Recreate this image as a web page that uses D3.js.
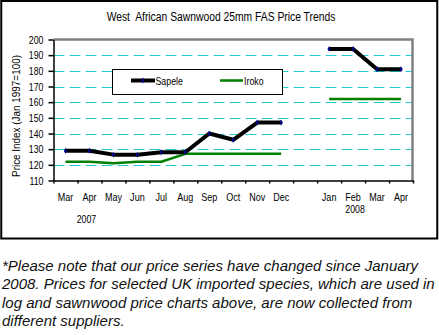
<!DOCTYPE html>
<html><head><meta charset="utf-8">
<script src="https://cdn.jsdelivr.net/npm/d3@7"></script>
<style>
body{margin:0;background:#fff;}
svg{display:block;}
text{font-family:Arial,"Liberation Sans",sans-serif;}
</style></head>
<body>
<script>
const title = "West  African Sawnwood 25mm FAS Price Trends";
const yTitle = "Price Index (Jan 1997=100)";
const categories = ["Mar","Apr","May","Jun","Jul","Aug","Sep","Oct","Nov","Dec","","Jan","Feb","Mar","Apr"];
const sapele = [129,129,126.5,126.5,128,128,140,136,147,147,null,194,194,181,181];
const iroko  = [122,122,121,122,122,127,127,127,127,127,null,162,162,162,162];
const yTicks = [110,120,130,140,150,160,170,180,190,200];
const gridValues = [120,130,140,150,160,170,180,190];
const yearLabels = [{text:"2007", at:1, row:2},{text:"2008", at:12, row:1}];
const seriesNames = ["Sapele","Iroko"];
const footer = [
  "*Please note that our price series have changed since January",
  "2008. Prices for selected UK imported species, which are used in",
  "log and sawnwood price charts above, are now collected from",
  "different suppliers."
];

const W=439,H=335;
const svg=d3.select("body").append("svg").attr("width",W).attr("height",H);
const L=53.5,R=412.5,T=39.5,B=180.5;
const x=d3.scaleBand().domain(d3.range(categories.length)).range([L,R+0.5]).paddingInner(0).paddingOuter(0);
const xc=i=>x(i)+x.bandwidth()/2;
const xb=d3.scaleLinear().domain([0,categories.length]).range([L,R+0.5]);
const y=d3.scaleLinear().domain([110,200]).range([B,T]);

function condense(sel,f){sel.each(function(){const n=this.getComputedTextLength();if(n>0){d3.select(this).attr("textLength",n*f).attr("lengthAdjust","spacingAndGlyphs");}});}

// outer frame
svg.append("rect").attr("x",1.25).attr("y",1).attr("width",436).attr("height",237.5)
  .attr("fill","#fff").attr("stroke","#000").attr("stroke-width",2);

// title
svg.append("text").attr("x",221).attr("y",20.5).attr("text-anchor","middle")
  .attr("font-size",12).style("white-space","pre").text(title).call(condense,0.86);

// grid
svg.append("g").selectAll("line").data(gridValues).join("line")
  .attr("x1",L).attr("x2",R).attr("y1",d=>Math.round(y(d))+0.5).attr("y2",d=>Math.round(y(d))+0.5)
  .attr("stroke","#22cccc").attr("stroke-width",1).attr("stroke-dasharray","11,5");

// plot border (gray)
svg.append("path").attr("d",`M${L},${T}H${R}V${B}`).attr("fill","none")
  .attr("stroke","#808080").attr("stroke-width",2.5);

// y axis
const ya=svg.append("g").attr("transform",`translate(${L},0)`)
  .call(d3.axisLeft(y).tickValues(yTicks).tickSize(5).tickSizeOuter(0).tickPadding(5));
ya.select(".domain").attr("stroke","#000").attr("stroke-width",1.5);
ya.selectAll(".tick line").attr("stroke","#000").attr("stroke-width",1.5);
ya.selectAll("text").attr("font-size",11).attr("font-family","Arial,'Liberation Sans',sans-serif").attr("fill","#000").call(condense,0.8);

// x axis ticks at boundaries
const xa=svg.append("g").attr("transform",`translate(0,${B})`)
  .call(d3.axisBottom(xb).tickValues(d3.range(categories.length+1)).tickSize(3).tickSizeOuter(0).tickFormat(""));
xa.select(".domain").attr("stroke","#000").attr("stroke-width",1.5);
xa.selectAll(".tick line").attr("stroke","#000").attr("stroke-width",1.5);
// x labels
const xl=svg.append("g").attr("transform",`translate(0,${B})`)
  .call(d3.axisBottom(x).tickSize(0).tickPadding(12.7).tickFormat(i=>categories[i]));
xl.select(".domain").remove();
xl.selectAll("text").attr("font-size",11).attr("font-family","Arial,'Liberation Sans',sans-serif").attr("fill","#000").call(condense,0.82);

// year labels
svg.append("g").selectAll("text").data(yearLabels).join("text")
  .attr("x",d=>xc(d.at)+(d.row===2?-3:2)).attr("y",d=>d.row===2?223:212.5)
  .attr("text-anchor","middle").attr("font-size",11).text(d=>d.text).call(condense,0.8);

// y title
svg.append("text").attr("transform","translate(20,116) rotate(-90)").attr("text-anchor","middle")
  .attr("font-size",11).text(yTitle).call(condense,0.9);

// lines
const line=d3.line().defined(d=>d!=null).x((d,i)=>xc(i)).y(d=>y(d));
svg.append("path").datum(iroko).attr("d",line).attr("fill","none")
  .attr("stroke","#008000").attr("stroke-width",2.5).attr("stroke-linejoin","round");
svg.append("path").datum(sapele).attr("d",line).attr("fill","none")
  .attr("stroke","#000").attr("stroke-width",4).attr("stroke-linejoin","round");
svg.append("g").selectAll("path").data(sapele.map((v,i)=>({v,i})).filter(d=>d.v!=null)).join("path")
  .attr("transform",d=>`translate(${xc(d.i)},${y(d.v)})`)
  .attr("d",d3.symbol(d3.symbolDiamond,10)).attr("fill","#000080");

// legend
const lg=svg.append("g");
lg.append("rect").attr("x",112.5).attr("y",69.5).attr("width",170).attr("height",25)
  .attr("fill","#fff").attr("stroke","#000").attr("stroke-width",1);
lg.append("line").attr("x1",131).attr("x2",155).attr("y1",80.5).attr("y2",80.5).attr("stroke","#000").attr("stroke-width",4);
lg.append("path").attr("transform","translate(143,80.5)").attr("d",d3.symbol(d3.symbolDiamond,10)).attr("fill","#000080");
lg.append("text").attr("x",155.5).attr("y",84.5).attr("font-size",11).text(seriesNames[0]).call(condense,0.8);
lg.append("line").attr("x1",220).attr("x2",243).attr("y1",80.5).attr("y2",80.5).attr("stroke","#008000").attr("stroke-width",2.5);
lg.append("text").attr("x",244).attr("y",84.5).attr("font-size",11).text(seriesNames[1]).call(condense,0.8);

// footer
svg.append("g").selectAll("text").data(footer).join("text")
  .attr("x",2).attr("y",(d,i)=>271+i*18.3).attr("font-size",15).attr("font-style","italic")
  .attr("fill","#111").text(d=>d);
</script>
</body></html>
